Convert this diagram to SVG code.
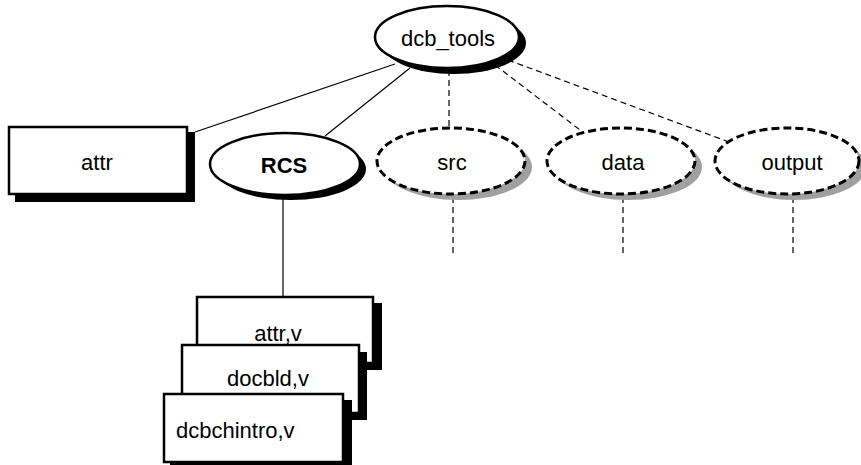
<svg xmlns="http://www.w3.org/2000/svg" width="861" height="465" viewBox="0 0 861 465">
<style>
text{font-family:"Liberation Sans",Arial,sans-serif;font-size:22px;fill:#000}
.c{text-anchor:middle}
.b{font-weight:bold}
.solid{stroke:#000;stroke-width:1.2;fill:none}
.dash{stroke:#000;stroke-width:1.2;fill:none;stroke-dasharray:6 4}
.box{fill:#fff;stroke:#000;stroke-width:2.5}
.bsh{fill:#000}
.ell{fill:#fff;stroke:#000;stroke-width:2.5}
.dell{fill:#fff;stroke:#000;stroke-width:3;stroke-dasharray:8 4}
.gsh{fill:#a0a0a0}
</style>
<rect width="861" height="465" fill="#fff"/>
<g id="connectors">
<line class="solid" x1="195" y1="132" x2="395" y2="64"/>
<line class="solid" x1="325" y1="136" x2="410" y2="68"/>
<line class="dash" x1="449" y1="70" x2="449" y2="128"/>
<line class="dash" x1="495" y1="65" x2="584" y2="133"/>
<line class="dash" x1="508" y1="60" x2="729" y2="142"/>
<line class="solid" x1="283" y1="196" x2="283" y2="297"/>
<line class="dash" x1="453" y1="197" x2="453" y2="256"/>
<line class="dash" x1="623" y1="197" x2="623" y2="256"/>
<line class="dash" x1="793" y1="197" x2="793" y2="256"/>
</g>
<g id="dcb_tools">
<ellipse class="bsh" cx="454" cy="43" rx="72" ry="31"/>
<ellipse class="ell" cx="447" cy="37" rx="72" ry="31"/>
<text class="c" x="448" y="46">dcb_tools</text>
</g>
<g id="attr">
<rect class="bsh" x="15" y="132" width="180" height="70"/>
<rect class="box" x="9" y="127" width="178" height="67"/>
<text class="c" x="97" y="170">attr</text>
</g>
<g id="RCS">
<ellipse class="bsh" cx="291" cy="169" rx="75" ry="31"/>
<ellipse class="ell" cx="285" cy="164" rx="75" ry="31"/>
<text class="c b" x="284" y="173">RCS</text>
</g>
<g id="src">
<ellipse class="gsh" cx="458" cy="167" rx="74" ry="33"/>
<ellipse class="dell" cx="451" cy="161" rx="74" ry="33"/>
<text class="c" x="452" y="170">src</text>
</g>
<g id="data">
<ellipse class="gsh" cx="628" cy="167" rx="74" ry="33"/>
<ellipse class="dell" cx="621" cy="161" rx="74" ry="33"/>
<text class="c" x="623" y="170">data</text>
</g>
<g id="output">
<ellipse class="gsh" cx="794" cy="167" rx="72" ry="33"/>
<ellipse class="dell" cx="787" cy="161" rx="72" ry="33"/>
<text class="c" x="792" y="170">output</text>
</g>
<g id="attr_v">
<rect class="bsh" x="204" y="303" width="178" height="67"/>
<rect class="box" x="197" y="297" width="176" height="66"/>
<text class="c" x="278" y="341">attr,v</text>
</g>
<g id="docbld_v">
<rect class="bsh" x="189" y="352" width="178" height="68"/>
<rect class="box" x="182" y="345" width="177" height="68"/>
<text class="c" x="268" y="386">docbld,v</text>
</g>
<g id="dcbchintro_v">
<rect class="bsh" x="170" y="400" width="182" height="65"/>
<rect class="box" x="164" y="394" width="179" height="68"/>
<text x="176" y="438">dcbchintro,v</text>
</g>
</svg>
